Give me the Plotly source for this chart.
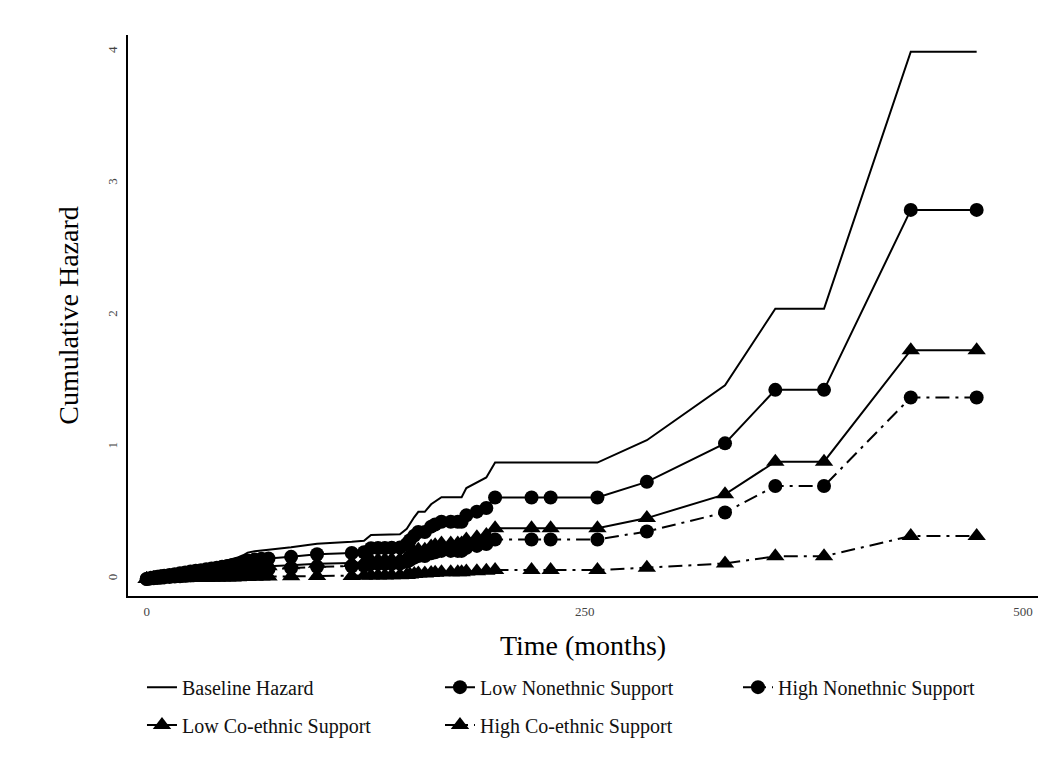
import plotly.graph_objects as go

# Time points (months)
months = [0, 2, 4, 6, 8, 10, 13, 16, 19, 22, 25, 28, 31, 34, 37, 40, 43, 46, 49, 52, 55,
          57.6, 61.6, 65.5, 69.5, 82.4, 97.2, 117, 124, 128, 132, 135.9, 139.8, 144.5,
          148.4, 150.2, 152.7, 155, 158.7, 162.3, 164.6, 168.2, 173.5, 177.5, 179.7, 182.4,
          188.4, 193.8, 198.8, 219.6, 230.5, 257.2, 285.4, 330, 358.7, 386.5, 436, 473.6]

baseline = [0.000, 0.008, 0.016, 0.024, 0.030, 0.036, 0.044, 0.052, 0.062, 0.072, 0.080,
            0.088, 0.096, 0.104, 0.113, 0.122, 0.132, 0.142, 0.152, 0.164, 0.180,
            0.200, 0.210, 0.218, 0.222, 0.240, 0.268, 0.282, 0.290, 0.334, 0.335, 0.336,
            0.338, 0.340, 0.380, 0.420, 0.470, 0.510, 0.510, 0.567, 0.590, 0.620, 0.620,
            0.620, 0.620, 0.690, 0.730, 0.770, 0.883, 0.883, 0.883, 0.883, 1.053, 1.470,
            2.050, 2.050, 4.000, 4.000]

low_nonethnic = [0.000, 0.006, 0.011, 0.017, 0.021, 0.025, 0.031, 0.036, 0.043, 0.050, 0.056,
                 0.062, 0.067, 0.073, 0.079, 0.085, 0.092, 0.099, 0.106, 0.115, 0.126,
                 0.140, 0.147, 0.153, 0.155, 0.168, 0.188, 0.197, 0.203, 0.234, 0.235, 0.235,
                 0.237, 0.238, 0.266, 0.294, 0.329, 0.357, 0.357, 0.397, 0.413, 0.434, 0.434,
                 0.434, 0.434, 0.483, 0.511, 0.539, 0.618, 0.618, 0.618, 0.618, 0.737, 1.029,
                 1.435, 1.435, 2.800, 2.800]

high_nonethnic = [0.000, 0.003, 0.006, 0.008, 0.010, 0.012, 0.015, 0.018, 0.021, 0.025, 0.028,
                  0.030, 0.033, 0.036, 0.039, 0.042, 0.045, 0.049, 0.052, 0.056, 0.062,
                  0.069, 0.072, 0.075, 0.076, 0.083, 0.092, 0.097, 0.100, 0.115, 0.115, 0.116,
                  0.116, 0.117, 0.131, 0.144, 0.162, 0.175, 0.175, 0.195, 0.203, 0.213, 0.213,
                  0.213, 0.213, 0.237, 0.251, 0.265, 0.300, 0.300, 0.300, 0.300, 0.360, 0.505,
                  0.705, 0.705, 1.377, 1.377]

low_coethnic = [0.000, 0.003, 0.007, 0.010, 0.013, 0.016, 0.019, 0.023, 0.027, 0.031, 0.035,
                0.038, 0.042, 0.045, 0.049, 0.053, 0.057, 0.062, 0.066, 0.071, 0.078,
                0.087, 0.091, 0.095, 0.096, 0.104, 0.116, 0.122, 0.126, 0.145, 0.145, 0.146,
                0.147, 0.148, 0.165, 0.182, 0.204, 0.221, 0.221, 0.246, 0.256, 0.269, 0.269,
                0.269, 0.269, 0.299, 0.317, 0.334, 0.385, 0.385, 0.385, 0.385, 0.462, 0.642,
                0.890, 0.890, 1.736, 1.736]

high_coethnic = [0.000, 0.001, 0.001, 0.002, 0.002, 0.003, 0.004, 0.004, 0.005, 0.006, 0.007,
                 0.007, 0.008, 0.008, 0.009, 0.010, 0.011, 0.012, 0.012, 0.013, 0.015,
                 0.016, 0.017, 0.018, 0.018, 0.020, 0.022, 0.023, 0.024, 0.027, 0.027, 0.027,
                 0.028, 0.028, 0.031, 0.034, 0.038, 0.042, 0.042, 0.046, 0.048, 0.051, 0.051,
                 0.051, 0.051, 0.056, 0.059, 0.063, 0.068, 0.068, 0.068, 0.068, 0.086, 0.118,
                 0.172, 0.172, 0.326, 0.326]

x_ticks = [0, 250, 500]
y_ticks = [0, 1, 2, 3, 4]

FONT = "Liberation Serif"
DASHDOT = "14px,6px,3px,6px"

fig = go.Figure()

fig.add_trace(go.Scatter(x=months, y=baseline, mode="lines", name="Baseline Hazard",
                         line=dict(color="black", width=2), legend="legend"))
fig.add_trace(go.Scatter(x=months, y=low_nonethnic, mode="lines+markers", name="Low Nonethnic Support",
                         line=dict(color="black", width=2),
                         marker=dict(symbol="circle", size=14, color="black"), legend="legend"))
fig.add_trace(go.Scatter(x=months, y=high_nonethnic, mode="lines+markers", name="High Nonethnic Support",
                         line=dict(color="black", width=2, dash=DASHDOT),
                         marker=dict(symbol="circle", size=14, color="black"), legend="legend"))
fig.add_trace(go.Scatter(x=months, y=low_coethnic, mode="lines+markers", name="Low Co-ethnic Support",
                         line=dict(color="black", width=2),
                         marker=dict(symbol="triangle-up", size=16, color="black"), legend="legend2"))
fig.add_trace(go.Scatter(x=months, y=high_coethnic, mode="lines+markers", name="High Co-ethnic Support",
                         line=dict(color="black", width=2, dash=DASHDOT),
                         marker=dict(symbol="triangle-up", size=16, color="black"), legend="legend2"))

legend_common = dict(orientation="h", xanchor="left", yanchor="top",
                     xref="container", yref="container",
                     font=dict(family=FONT, size=20, color="#111"),
                     entrywidth=253, entrywidthmode="pixels",
                     bgcolor="rgba(0,0,0,0)", itemclick=False, itemdoubleclick=False)

fig.update_layout(
    width=1050, height=764,
    margin=dict(l=120, r=20, t=27, b=176, autoexpand=False),
    paper_bgcolor="white", plot_bgcolor="white",
    font=dict(family=FONT, color="black"),
    legend=dict(x=0.1276, y=0.1366, **legend_common),
    legend2=dict(x=0.1276, y=0.0869, **legend_common),
    xaxis=dict(range=[-10.67, 508.6], tickvals=x_ticks, ticktext=[str(v) for v in x_ticks],
               showgrid=False, zeroline=False, showline=True, linecolor="black", linewidth=2,
               ticks="", ticklabelstandoff=2, tickfont=dict(family=FONT, size=13, color="#444"),
               title=dict(text="Time (months)", font=dict(family=FONT, size=28, color="black"),
                          standoff=18)),
    yaxis=dict(range=[-0.129, 4.127], tickvals=y_ticks, ticktext=[str(v) for v in y_ticks],
               showgrid=False, zeroline=False, showline=True, linecolor="black", linewidth=2,
               ticks="", tickangle=-90, ticklabelstandoff=4,
               tickfont=dict(family=FONT, size=13, color="#444"),
               title=dict(text="Cumulative Hazard", font=dict(family=FONT, size=28, color="black"),
                          standoff=18)),
)

fig.write_html("out.html")
